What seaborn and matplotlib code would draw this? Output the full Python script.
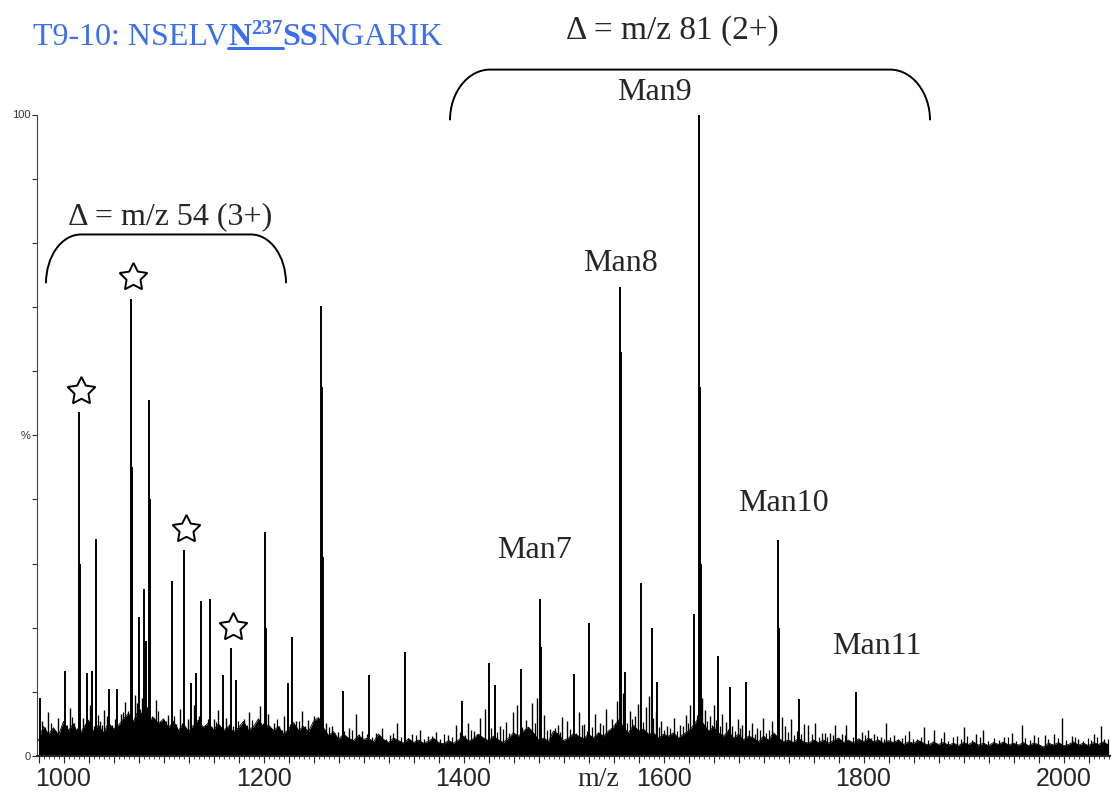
import numpy as np
import pandas as pd
import matplotlib
matplotlib.use("Agg")
import matplotlib.pyplot as plt
import seaborn as sns
from matplotlib.path import Path
from matplotlib.patches import PathPatch
from matplotlib.lines import Line2D
from matplotlib.ticker import MultipleLocator, FuncFormatter

# main peaks (m/z, relative intensity %)
peak_mz = [976.5, 1001.5, 1015.5, 1016.5, 1023, 1028, 1032, 1045.5, 1053.5,
           1067.5, 1068.3, 1075, 1080, 1082, 1085, 1086, 1108, 1120, 1127.5,
           1132, 1137, 1146, 1159, 1167, 1172.5, 1201, 1202, 1224, 1228.5,
           1257, 1258, 1259.5, 1279, 1305.5, 1341.5, 1398, 1425.5, 1431.5,
           1457.5, 1476.5, 1477.5, 1510, 1525.5, 1556.5, 1557.5, 1561.5, 1577,
           1588, 1593, 1630, 1635.5, 1636.5, 1637.5, 1654, 1666, 1682, 1714,
           1715, 1735, 1792.5]
peak_int = [9.0, 13.2, 53.6, 30.0, 12.9, 13.2, 33.8, 10.4, 10.4,
            71.3, 45.0, 21.7, 26.1, 18.0, 55.5, 40.0, 27.3, 32.1, 11.4,
            12.9, 24.1, 24.5, 12.6, 16.8, 11.8, 34.9, 20.0, 11.4, 18.6,
            70.2, 57.5, 31.0, 10.2, 12.6, 16.2, 8.6, 14.5, 11.0,
            13.6, 24.5, 17.0, 12.8, 20.7, 73.1, 63.0, 13.1, 27.0,
            20.0, 11.6, 22.1, 100.0, 57.5, 30.0, 15.6, 10.7, 11.6, 33.6,
            20.0, 8.9, 10.0]

# noise spikes
spike_mz = [978, 984, 989, 994, 998, 1006, 1010, 1019, 1026, 1036, 1040, 1043,
            1048, 1057, 1061, 1064, 1071, 1073, 1078, 1083, 1088, 1092, 1096,
            1100, 1104, 1112, 1116, 1124, 1130, 1135, 1141, 1150, 1154, 1162,
            1176, 1180, 1185, 1190, 1196, 1204, 1210, 1215, 1220, 1232, 1238,
            1244, 1250, 1262, 1268, 1274, 1285, 1292, 1298,
            1312, 1318, 1326, 1333, 1348, 1356, 1364, 1372, 1384, 1392, 1404,
            1410, 1416, 1421, 1436, 1442, 1449, 1453, 1462, 1468, 1473, 1480,
            1486, 1494, 1498, 1503, 1515, 1520, 1531, 1536, 1542, 1548,
            1553, 1559, 1566, 1571, 1574, 1582, 1585, 1592, 1597, 1603, 1610,
            1616, 1622, 1626, 1638, 1641, 1646, 1650, 1658, 1662, 1668, 1674,
            1678, 1688, 1693, 1699,
            1708, 1718, 1721, 1727, 1740, 1744, 1751.5, 1761.5, 1766, 1771,
            1778, 1782.5, 1798, 1804, 1810, 1817, 1822.5, 1830, 1838, 1845,
            1853, 1860.5, 1870.5, 1880, 1893, 1900.5, 1912, 1919.5, 1940,
            1948, 1958.5, 1970, 1981.5, 1990, 1998.5, 2008, 2014, 2030, 2037.5]
spike_int = [5.5, 6.8, 4.2, 5.9, 4.6, 7.5, 5.2, 6.0, 8.0, 5.4, 7.2, 6.3,
             4.8, 6.6, 8.4, 7.0, 9.5, 8.2, 9.0, 7.6, 6.2, 8.8, 5.5,
             4.6, 6.4, 5.0, 7.4, 5.8, 8.0, 6.2, 4.9, 5.7, 7.1, 6.0,
             4.5, 5.8, 6.9, 4.4, 7.8, 6.6, 5.1, 4.7, 6.2, 5.4, 7.0,
             5.6, 6.3, 5.2, 4.6, 3.8, 4.4, 6.5, 3.9,
             3.6, 4.4, 3.2, 5.1, 3.4, 4.0, 3.1, 3.7, 3.3, 4.8, 5.2,
             3.9, 6.0, 7.4, 4.6, 5.3, 6.8, 7.9, 5.6, 8.2, 9.0, 6.4,
             4.2, 4.9, 6.1, 5.5, 6.9, 5.0, 6.6, 5.2, 7.3, 5.8,
             8.5, 9.8, 7.0, 6.2, 8.1, 7.6, 9.4, 6.8, 5.4, 4.6, 5.9,
             4.8, 6.4, 7.9, 9.0, 7.2, 6.3, 8.0, 6.5, 5.3, 4.6, 5.8,
             4.9, 5.2, 4.4, 6.0,
             5.5, 6.1, 4.6, 5.8, 5.0, 4.8, 5.1, 3.6, 3.6, 4.8,
             3.5, 4.8, 3.7, 4.0, 3.4, 2.9, 5.1, 3.3, 2.8, 3.9,
             2.7, 4.5, 4.0, 3.8, 3.1, 4.5, 3.4, 4.0, 3.0,
             3.6, 4.8, 3.2, 3.3, 3.5, 5.9, 3.1, 2.6, 3.4, 4.6]

# denser, lower noise spikes
fine_mz = [981, 987, 992, 1003, 1008, 1013, 1021, 1030, 1034, 1038, 1051, 1055,
           1059, 1066, 1076, 1081, 1090, 1094, 1098, 1102, 1106, 1110, 1118,
           1122, 1126, 1133, 1139, 1144, 1148, 1152, 1157, 1165, 1169, 1174,
           1178, 1183, 1188, 1193, 1199, 1207, 1213, 1218, 1226, 1230, 1235,
           1241, 1247, 1253, 1265, 1271, 1280, 1288, 1295,
           1303, 1308, 1315, 1322, 1329, 1337, 1344, 1352, 1360, 1368, 1376,
           1380, 1388, 1396, 1401, 1407, 1413, 1427, 1433, 1439, 1445, 1458,
           1465, 1471, 1483, 1489, 1491, 1496, 1506, 1512, 1518, 1523, 1528,
           1534, 1539, 1545,
           1551, 1555, 1563, 1568, 1579, 1589, 1595, 1600, 1606, 1613, 1619,
           1624, 1629, 1633, 1643, 1648, 1652, 1656, 1664, 1671, 1676, 1681,
           1685, 1691, 1696,
           1702, 1705, 1711, 1724, 1730, 1733, 1737, 1748, 1755, 1758, 1763,
           1769, 1774, 1781, 1789, 1795, 1801, 1807, 1813, 1820, 1826, 1834,
           1841, 1849, 1857, 1864, 1877, 1884, 1889, 1897, 1903, 1908, 1916,
           1924, 1930, 1935, 1944, 1952, 1961, 1966, 1974, 1984, 1994, 2002,
           2011, 2019, 2024, 2027, 2033, 2040, 2044]
fine_int = [4.5, 5.2, 3.9, 4.8, 6.1, 4.4, 5.0, 4.6, 6.4, 4.9, 5.8, 4.7,
            6.9, 5.5, 7.4, 6.6, 5.9, 7.0, 4.9, 5.4, 4.6, 6.2, 5.1,
            4.4, 6.0, 5.0, 4.6, 5.8, 4.5, 5.3, 4.2, 5.0, 4.6, 5.5,
            4.1, 4.9, 5.6, 4.3, 5.2, 4.4, 5.7, 4.0, 5.0, 4.3, 5.4,
            4.6, 4.1, 5.6, 4.5, 3.6, 3.9, 4.1, 3.4,
            3.4, 2.9, 3.2, 2.7, 3.6, 3.0, 2.8, 3.3, 2.6, 3.1, 2.7,
            3.5, 2.9, 3.8, 3.2, 4.0, 3.5, 4.4, 3.8, 4.2, 3.6, 4.5,
            4.0, 5.2, 4.1, 3.5, 4.4, 3.7, 4.2, 3.6, 4.8, 3.9, 4.5,
            3.7, 4.9, 4.1,
            5.2, 6.0, 5.1, 5.8, 5.3, 6.0, 4.5, 4.0, 4.4, 3.9, 4.6,
            5.2, 5.8, 6.4, 5.4, 4.8, 5.6, 4.6, 4.2, 3.9, 4.4, 3.6,
            4.0, 3.5, 4.1,
            3.6, 4.0, 3.4, 3.8, 3.2, 3.9, 3.4, 3.5, 3.0, 3.6, 2.9,
            3.3, 2.8, 3.2, 3.0, 2.7, 3.2, 2.8, 3.1, 2.6, 3.0, 2.7,
            3.2, 2.6, 2.9, 2.5, 2.8, 2.4, 3.0, 2.6, 3.1, 2.5, 2.9,
            2.4, 2.8, 2.5, 2.9, 2.4, 2.8, 2.5, 3.0, 2.6, 2.8, 2.5,
            2.9, 2.4, 2.8, 2.5, 2.9, 2.6, 2.7]

# baseline noise level, every 5 m/z from 975 to 2045
noise_mz = np.arange(975, 2046, 5)
noise_int = [2.4, 4.6, 3.4, 4.4, 3.2, 5.4,
             4.0, 5.0, 3.2, 4.4, 5.6, 3.8, 4.8, 3.6, 5.2, 4.2,
             4.8, 5.8, 6.6, 5.4, 7.2, 6.2, 5.4, 6.0, 5.0, 5.8,
             4.4, 5.4, 4.0, 5.0, 3.8, 4.8, 5.6, 4.4, 5.2, 4.0,
             5.0, 4.0, 4.6, 3.8, 4.4, 5.4, 4.0, 4.6, 5.8, 4.4,
             4.8, 4.0, 4.6, 3.4, 4.2, 5.2, 4.0, 4.6, 3.8, 5.4,
             6.0, 4.4, 3.2, 3.8, 2.6, 3.4, 2.8, 2.4, 3.2, 2.6,
             2.8, 2.2, 3.4, 2.6, 2.1, 2.8, 2.4, 2.0, 2.7, 2.1,
             2.5, 2.0, 2.3, 2.8, 2.1, 1.9, 2.4, 2.0, 2.5, 3.1,
             2.3, 2.7, 3.4, 2.8, 2.4, 3.1, 2.5, 2.1, 2.8, 3.6,
             3.1, 3.9, 4.5, 3.6, 2.5, 2.8, 2.3, 3.9, 3.4, 2.4,
             2.8, 3.5, 3.1, 2.7, 3.4, 2.8, 3.6, 3.1, 3.9, 4.5,
             5.6, 4.5, 3.6, 4.8, 3.9, 4.2, 3.4, 3.6, 2.8, 3.4,
             3.1, 3.6, 2.8, 3.4, 3.9, 4.8, 5.9, 5.0, 3.9, 4.5,
             3.6, 3.1, 3.9, 2.8, 3.4, 2.5, 3.1, 2.8, 2.2, 3.1,
             2.5, 3.6, 2.8, 2.2, 2.5, 2.1, 2.8, 2.2, 2.0, 2.5,
             2.1, 2.5, 2.0, 2.4, 2.8, 2.1, 2.5, 2.0, 2.7, 2.2,
             2.8, 2.2, 2.5, 2.0, 2.4, 2.1, 2.5, 1.8, 2.2, 2.0,
             2.4, 2.0, 1.7, 2.2, 1.8, 2.1, 1.7, 2.0, 1.6, 2.1,
             1.8, 2.2, 1.7, 2.0, 1.6, 2.1, 1.8, 2.2, 1.7, 2.0,
             1.7, 2.1, 1.6, 2.0, 1.8, 1.4, 2.0, 1.7, 2.1, 1.6,
             1.8, 2.2, 1.7, 2.0, 1.6, 2.1, 1.8, 2.2, 1.7]

# starred peaks (3+ series)
star_mz = [1015.5, 1067.5, 1120, 1167]

man_labels = ["Man7", "Man8", "Man9", "Man10", "Man11"]
man_pos = [(1471.5, 32.1), (1556.5, 76.8), (1591.5, 103.4), (1719.5, 39.4), (1813.5, 17.0)]

sns.set_style("ticks")
plt.rcParams["font.family"] = ["Liberation Sans", "DejaVu Sans"]

fig = plt.figure(figsize=(11.12, 7.94), dpi=100)
ax = fig.add_axes([37 / 1112, 38 / 794, 1073 / 1112, 641.5 / 794])

noise = pd.DataFrame({"mz": noise_mz, "intensity": noise_int})
sns.lineplot(data=noise, x="mz", y="intensity", color="black", lw=0.6, ax=ax)
ax.fill_between(noise["mz"], 0, noise["intensity"], color="black", lw=0)
ax.vlines(fine_mz, 0, fine_int, color="black", lw=0.9)
ax.vlines(spike_mz, 0, spike_int, color="black", lw=1.0)
ax.vlines(peak_mz, 0, peak_int, color="black", lw=1.4)

star_h = [peak_int[peak_mz.index(m)] + 3.3 for m in star_mz]
ax.plot([m + 2 for m in star_mz], star_h, ls="none", marker=(5, 1), ms=21,
        mfc="white", mec="black", mew=1.4, clip_on=False)

serif = "Liberation Serif"
for lab, (x, y) in zip(man_labels, man_pos):
    ax.text(x, y, lab, fontsize=23, family=serif, ha="center", va="center")
ax.text(1106.5, 84, "Δ = m/z 54 (3+)", fontsize=23, family=serif, ha="center", va="center")
ax.text(1608.5, 113.1, "Δ = m/z 81 (2+)", fontsize=24, family=serif, ha="center", va="center")


def bracket(x0, x1, yb, yt, rx):
    k = 0.5523
    verts = [(x0, yb), (x0, yb + k * (yt - yb)), (x0 + rx * (1 - k), yt), (x0 + rx, yt),
             (x1 - rx, yt), (x1 - rx * (1 - k), yt), (x1, yb + k * (yt - yb)), (x1, yb)]
    codes = [Path.MOVETO, Path.CURVE4, Path.CURVE4, Path.CURVE4,
             Path.LINETO, Path.CURVE4, Path.CURVE4, Path.CURVE4]
    ax.add_patch(PathPatch(Path(verts, codes), fill=False, lw=1.4, ec="black", clip_on=False))


bracket(1386.5, 1866.5, 99.1, 107.0, 40)
bracket(982.5, 1222.5, 73.7, 81.3, 35)

ax.set_xlim(973.5, 2046.5)
ax.set_ylim(0, 100)
ax.xaxis.set_major_locator(MultipleLocator(25))
ax.xaxis.set_minor_locator(MultipleLocator(5))
ax.xaxis.set_major_formatter(FuncFormatter(lambda v, p: f"{int(round(v))}" if round(v) % 200 == 0 else ""))
ax.set_yticks(range(0, 101, 10))
ax.set_yticklabels(["0", "", "", "", "", "%", "", "", "", "", "100"])
ax.tick_params(axis="x", which="major", length=5, width=0.8, labelsize=18, pad=3)
ax.tick_params(axis="x", which="minor", length=2.5, width=0.6)
ax.tick_params(axis="y", length=3.5, width=0.8, labelsize=8, pad=1, labelcolor="#333333")
ax.set_xlabel("")
ax.set_ylabel("")
for s in ["top", "right"]:
    ax.spines[s].set_visible(False)
ax.spines["left"].set_color("#444444")
ax.spines["left"].set_linewidth(0.8)
ax.spines["bottom"].set_linewidth(1.5)

fig.text(598 / 1112, 14 / 794, "m/z", fontsize=20, family=serif, ha="center", va="center")

# title with bold, underlined glycosite
blue = "#3b6ef0"
t1 = fig.text(33 / 1112, 749 / 794, "T9-10: NSELV", color=blue, fontsize=23, family=serif, va="baseline")
t2 = ax.annotate("N", xy=(1, 0), xycoords=t1, va="bottom", color=blue, fontsize=23,
                 family=serif, weight="bold", annotation_clip=False)
t3 = ax.annotate("237", xy=(1, 1), xycoords=t2, xytext=(0, 3), textcoords="offset points",
                 va="top", color=blue, fontsize=15, family=serif, weight="bold", annotation_clip=False)
t4 = ax.annotate("SS", xy=(1, 0), xycoords=(t3, t2), va="bottom", color=blue, fontsize=23,
                 family=serif, weight="bold", annotation_clip=False)
t5 = ax.annotate("NGARIK", xy=(1, 0), xycoords=t4, va="bottom", color=blue, fontsize=23,
                 family=serif, annotation_clip=False)

fig.canvas.draw()
r = fig.canvas.get_renderer()
b2 = t2.get_window_extent(r)
b3 = t3.get_window_extent(r)
W, H = fig.bbox.width, fig.bbox.height
uy = (b2.y0 + 4) / H
fig.add_artist(Line2D([b2.x0 / W, b3.x1 / W], [uy, uy], color=blue, lw=2.2))

fig.savefig("out.png", dpi=100)
